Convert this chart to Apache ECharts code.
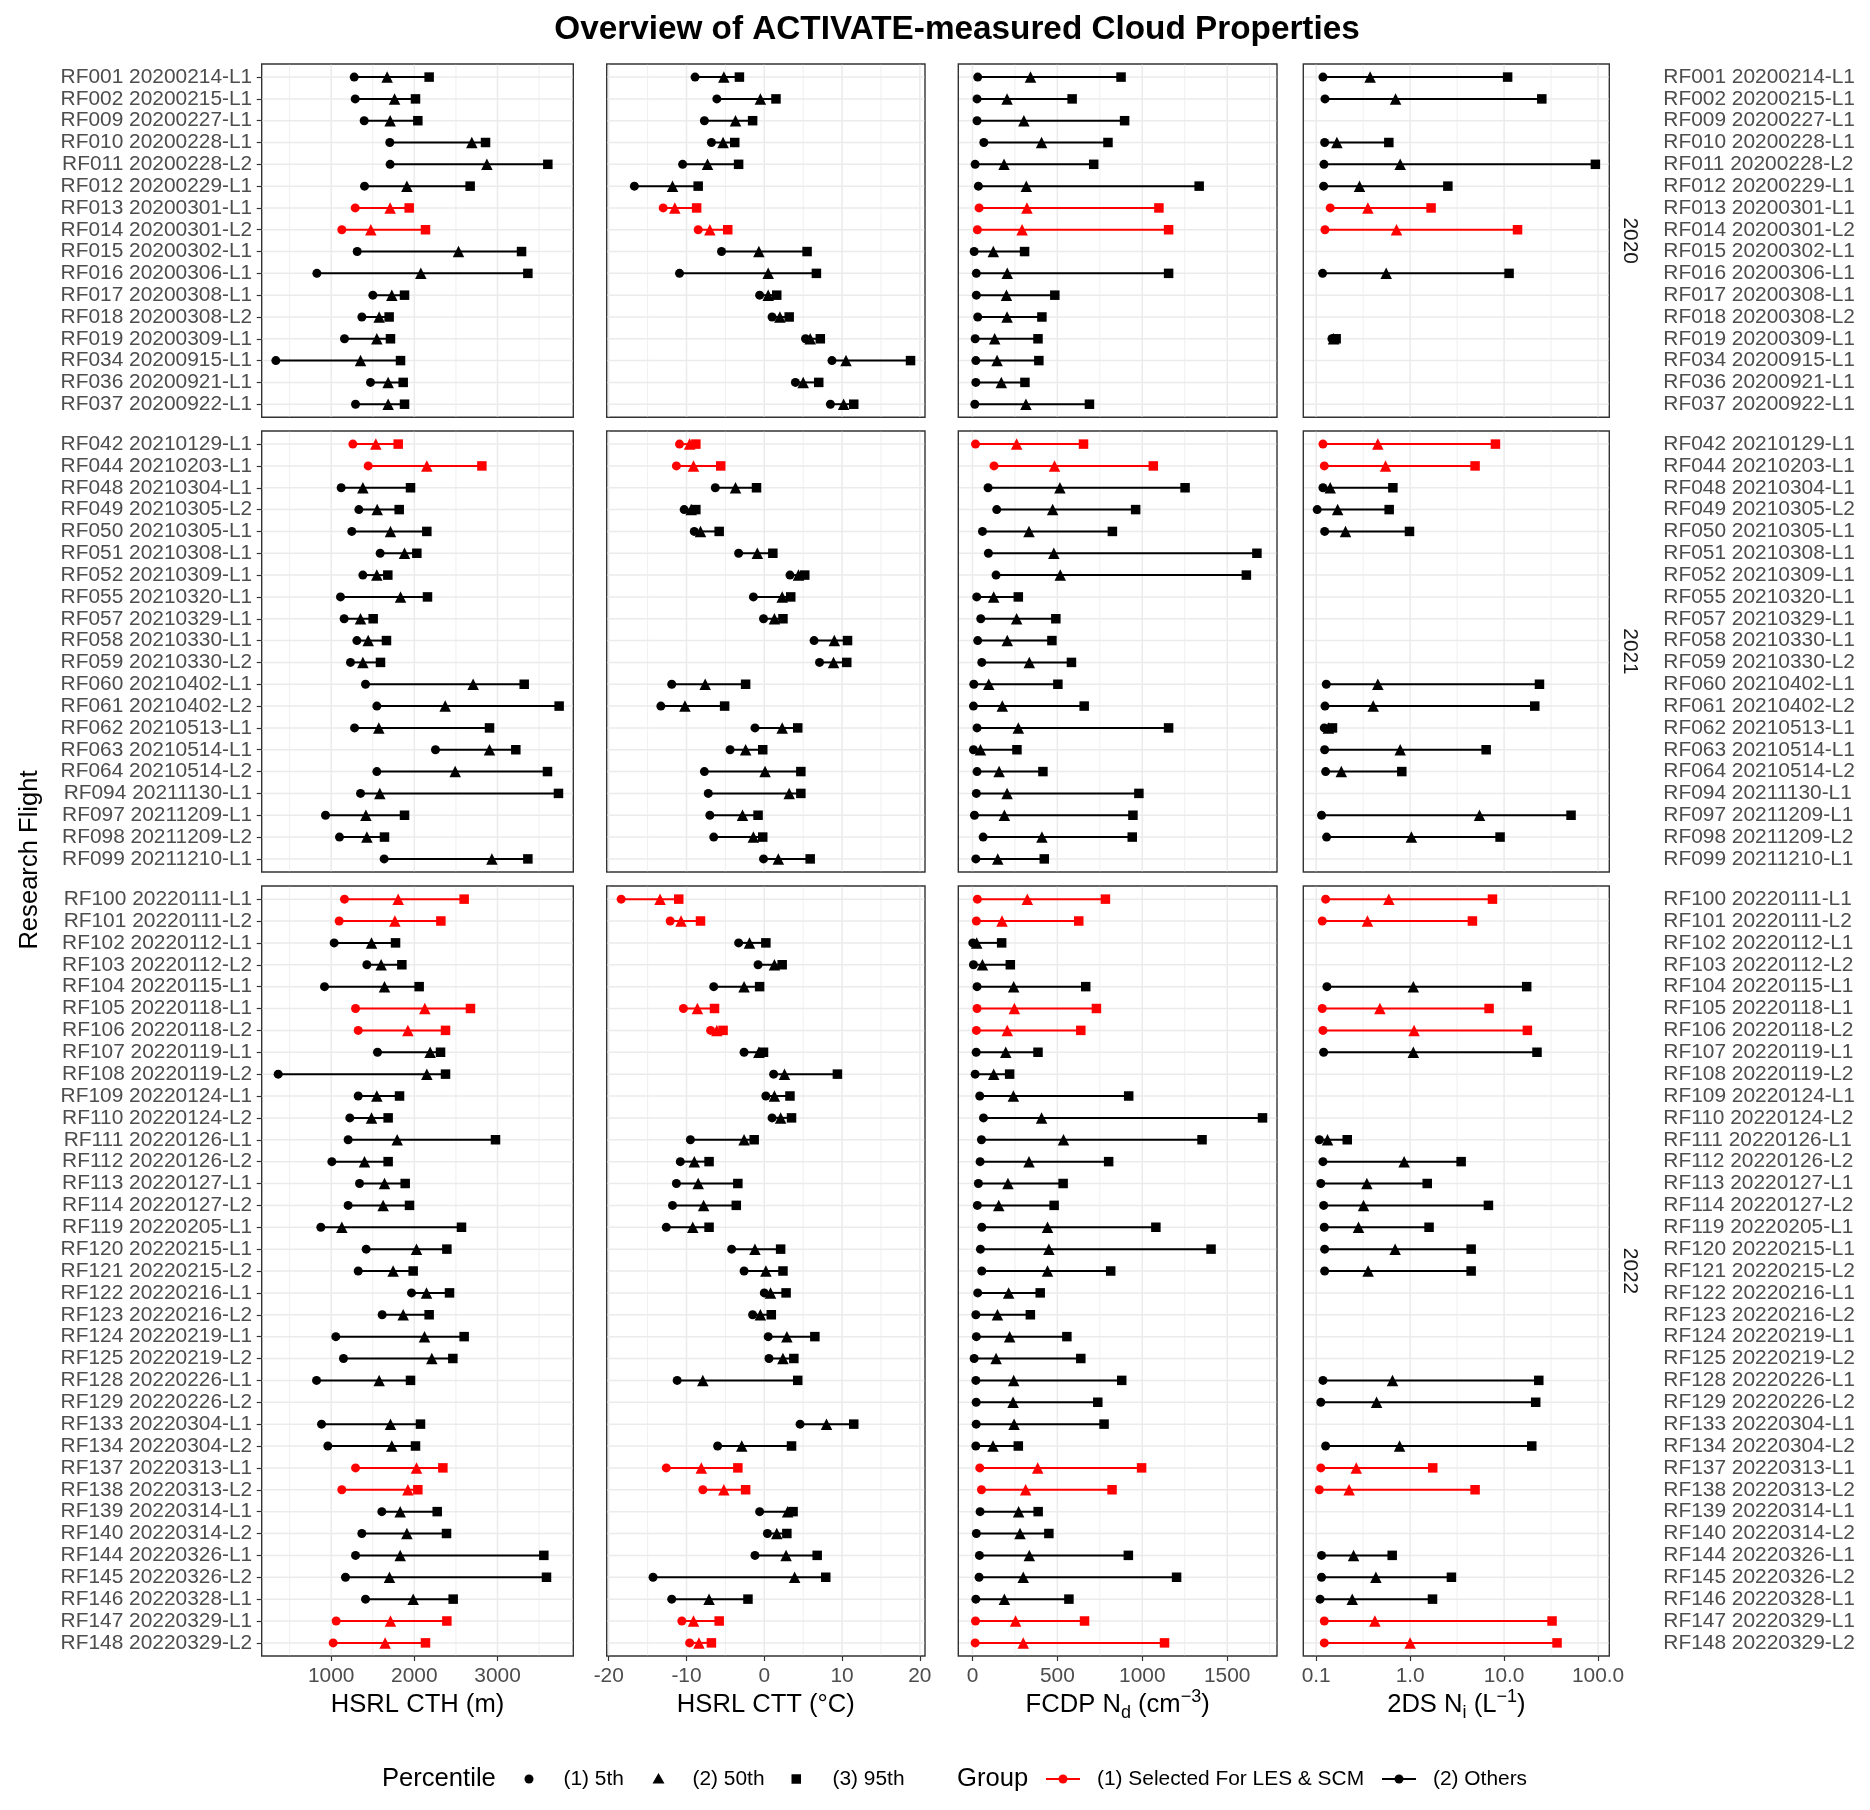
<!DOCTYPE html>
<html>
<head>
<meta charset="utf-8">
<script src="https://cdn.jsdelivr.net/npm/echarts@6/dist/echarts.min.js"></script>
<style>html,body{margin:0;padding:0;background:#fff}#chart{width:1870px;height:1810px}</style>
</head>
<body>
<div id="chart"></div>
<script>
// ---------------- DATA ----------------
const facetYears = ["2020", "2021", "2022"];
const flights = [
  "RF001 20200214-L1","RF002 20200215-L1","RF009 20200227-L1","RF010 20200228-L1","RF011 20200228-L2","RF012 20200229-L1","RF013 20200301-L1","RF014 20200301-L2","RF015 20200302-L1","RF016 20200306-L1","RF017 20200308-L1","RF018 20200308-L2","RF019 20200309-L1","RF034 20200915-L1","RF036 20200921-L1","RF037 20200922-L1",
  "RF042 20210129-L1","RF044 20210203-L1","RF048 20210304-L1","RF049 20210305-L2","RF050 20210305-L1","RF051 20210308-L1","RF052 20210309-L1","RF055 20210320-L1","RF057 20210329-L1","RF058 20210330-L1","RF059 20210330-L2","RF060 20210402-L1","RF061 20210402-L2","RF062 20210513-L1","RF063 20210514-L1","RF064 20210514-L2","RF094 20211130-L1","RF097 20211209-L1","RF098 20211209-L2","RF099 20211210-L1",
  "RF100 20220111-L1","RF101 20220111-L2","RF102 20220112-L1","RF103 20220112-L2","RF104 20220115-L1","RF105 20220118-L1","RF106 20220118-L2","RF107 20220119-L1","RF108 20220119-L2","RF109 20220124-L1","RF110 20220124-L2","RF111 20220126-L1","RF112 20220126-L2","RF113 20220127-L1","RF114 20220127-L2","RF119 20220205-L1","RF120 20220215-L1","RF121 20220215-L2","RF122 20220216-L1","RF123 20220216-L2","RF124 20220219-L1","RF125 20220219-L2","RF128 20220226-L1","RF129 20220226-L2","RF133 20220304-L1","RF134 20220304-L2","RF137 20220313-L1","RF138 20220313-L2","RF139 20220314-L1","RF140 20220314-L2","RF144 20220326-L1","RF145 20220326-L2","RF146 20220328-L1","RF147 20220329-L1","RF148 20220329-L2"
];
// 1 = "(1) Selected For LES & SCM", 0 = "(2) Others"
const selected = [
  0,0,0,0,0,0,1,1,0,0,0,0,0,0,0,0,
  1,1,0,0,0,0,0,0,0,0,0,0,0,0,0,0,0,0,0,0,
  1,1,0,0,0,1,1,0,0,0,0,0,0,0,0,0,0,0,0,0,0,0,0,0,0,0,1,1,0,0,0,0,0,1,1
];

// HSRL CTH (m)
const cth_p05 = [1277,1289,1397,1705,1709,1401,1289,1128,1313,828,1501,1369,1160,335,1473,1293,
  1261,1445,1120,1333,1248,1589,1381,1112,1156,1309,1232,1413,1549,1281,2254,1549,1353,932,1100,1637,
  1160,1096,1036,1429,920,1293,1325,1557,363,1325,1224,1204,1008,1341,1204,876,1421,1325,1966,1613,1056,1148,824,null,884,960,1293,1128,1609,1369,1293,1172,1413,1060,1024];
const cth_p50 = [1673,1762,1709,2691,2872,1910,1709,1477,2531,2078,1729,1577,1549,1353,1685,1685,
  1537,2150,1381,1553,1713,1882,1549,1834,1353,1445,1381,2707,2371,1573,2904,2491,1585,1417,1429,2932,
  1806,1766,1485,1601,1641,2126,1922,2190,2150,1549,1485,1794,1401,1641,1625,1128,2026,1745,2146,1866,2122,2210,1577,null,1713,1729,2026,1922,1830,1910,1830,1701,1986,1713,1649];
const cth_p95 = [2178,2014,2042,2856,3605,2671,1938,2134,3289,3365,1882,1697,1713,1834,1866,1882,
  1806,2812,1954,1818,2150,2030,1681,2158,1505,1665,1593,3321,3741,2904,3220,3601,3733,1882,1641,3365,
  2599,2319,1774,1850,2058,2675,2375,2315,2375,1822,1685,2976,1685,1890,1942,2567,2391,1986,2423,2178,2599,2463,1954,null,2074,2014,2343,2042,2275,2387,3557,3589,2467,2391,2134];

// HSRL CTT (deg C)
const ctt_p05 = [-8.9,-6.1,-7.7,-6.8,-10.5,-16.7,-13.0,-8.5,-5.5,-10.9,-0.6,1.0,5.3,8.7,4.0,8.5,
  -10.9,-11.3,-6.3,-10.3,-9.0,-3.3,3.3,-1.4,-0.1,6.4,7.1,-11.9,-13.3,-1.2,-4.4,-7.7,-7.2,-7.0,-6.5,-0.1,
  -18.4,-12.1,-3.3,-0.8,-6.5,-10.4,-6.9,-2.6,1.2,0.2,1.0,-9.5,-10.8,-11.3,-11.8,-12.6,-4.2,-2.6,0.0,-1.5,0.5,0.6,-11.2,null,4.6,-6.0,-12.6,-7.9,-0.6,0.4,-1.2,-14.3,-11.9,-10.6,-9.6];
const ctt_p50 = [-5.2,-0.5,-3.7,-5.3,-7.3,-11.8,-11.5,-7.0,-0.7,0.5,0.5,2.0,5.9,10.5,5.0,10.2,
  -9.6,-9.1,-3.7,-9.4,-8.2,-0.9,4.4,2.3,1.3,9.0,8.9,-7.6,-10.2,2.3,-2.4,0.1,3.2,-2.8,-1.4,1.8,
  -13.4,-10.7,-1.9,1.3,-2.6,-8.6,-6.1,-0.7,2.6,1.3,2.1,-2.6,-9.0,-8.5,-7.8,-9.2,-1.2,0.2,0.8,-0.5,2.9,2.4,-7.9,null,8.0,-2.9,-8.1,-5.2,3.0,1.6,2.8,3.9,-7.1,-9.1,-8.4];
const ctt_p95 = [-3.2,1.5,-1.5,-3.8,-3.3,-8.5,-8.7,-4.7,5.5,6.7,1.6,3.2,7.2,18.8,7.0,11.5,
  -8.8,-5.6,-1.0,-8.8,-5.8,1.1,5.2,3.4,2.4,10.7,10.6,-2.4,-5.1,4.3,-0.2,4.7,4.7,-0.8,-0.2,5.9,
  -11.0,-8.2,0.2,2.3,-0.6,-6.4,-5.3,-0.1,9.4,3.3,3.5,-1.3,-7.1,-3.4,-3.6,-7.1,2.1,2.4,2.8,0.9,6.5,3.8,4.3,null,11.5,3.5,-3.4,-2.4,3.7,2.9,6.8,7.9,-2.1,-5.8,-6.8];

// FCDP Nd (cm^-3)
const nd_p05 = [31,27,27,67,16,35,39,29,10,23,23,31,16,20,20,14,
  18,127,92,143,59,94,139,25,49,31,55,8,6,27,6,27,23,12,63,20,
  29,23,2,6,27,27,23,22,16,43,65,53,45,35,29,55,47,55,31,20,23,10,20,22,22,20,43,53,45,23,41,39,20,18,16];
const nd_p50 = [342,204,303,407,186,317,321,292,123,205,200,204,131,145,170,315,
  260,483,515,472,333,479,517,125,260,205,335,96,176,270,47,157,204,188,409,149,
  323,174,25,59,243,247,205,196,125,241,407,536,333,209,155,442,450,442,213,147,219,139,243,239,245,121,384,313,272,280,335,299,188,254,299];
const nd_p95 = [875,587,896,798,714,1335,1098,1155,307,1155,485,409,386,391,309,689,
  654,1065,1252,961,824,1675,1613,270,491,468,583,503,658,1155,262,415,980,945,941,423,
  783,626,172,223,667,730,638,386,219,920,1708,1352,802,534,481,1080,1405,814,399,341,556,638,879,738,775,270,996,822,387,450,918,1202,568,660,1131];

// 2DS Ni (L^-1); null = not measured
const ni_p05 = [0.118,0.124,null,0.123,0.121,0.120,0.141,0.124,null,0.117,null,null,0.147,null,null,null,
  0.118,0.122,0.118,0.1025,0.123,null,null,null,null,null,null,0.128,0.124,0.122,0.123,0.126,null,0.114,0.129,null,
  0.126,0.116,null,null,0.130,0.116,0.118,0.120,null,null,null,0.108,0.118,0.112,0.120,0.122,0.123,0.123,null,null,null,null,0.118,0.112,null,0.126,0.112,0.108,null,null,0.114,0.114,0.110,0.122,0.122];
const ni_p50 = [0.375,0.699,null,0.166,0.783,0.289,0.355,0.716,null,0.556,null,null,0.153,null,null,null,
  0.453,0.547,0.141,0.169,0.205,null,null,null,null,null,null,0.453,0.404,0.135,0.783,0.185,null,5.47,1.03,null,
  0.593,0.351,null,null,1.08,0.476,1.10,1.08,null,null,null,0.132,0.863,0.346,0.319,0.282,0.692,0.357,null,null,null,null,0.649,0.439,null,0.771,0.267,0.224,null,null,0.250,0.432,0.242,0.421,1.0];
const ni_p95 = [10.9,25.2,null,0.593,93.7,2.52,1.67,13.9,null,11.3,null,null,0.163,null,null,null,
  8.09,4.91,0.655,0.598,0.984,null,null,null,null,null,null,23.8,21.2,0.149,6.44,0.815,null,51.6,9.06,null,
  7.52,4.60,null,null,17.4,6.92,17.7,22.4,null,null,null,0.214,3.49,1.52,6.81,1.59,4.46,4.46,null,null,null,null,23.4,21.7,null,19.7,1.74,4.91,null,null,0.644,2.75,1.73,32.4,36.6];

// tick labels (major) and minor grid breaks per column
const cthTicks = [1000, 2000, 3000];
const cthMinor = [500, 1500, 2500, 3500];
const cttTicks = [-20, -10, 0, 10, 20];
const cttMinor = [-15, -5, 5, 15];
const ndTicks = [0, 500, 1000, 1500];
const ndMinor = [250, 750, 1250, 1750];
const niTicks = [0.1, 1, 10, 100];
const niMinor = [0.316, 3.162, 31.62];

const percentileNames = ["(1) 5th", "(2) 50th", "(3) 95th"];
const groupNames = ["(1) Selected For LES & SCM", "(2) Others"];

// ---------------- LAYOUT / STYLE ----------------
const FONT = "'Liberation Sans', Arial, Helvetica, sans-serif";
const RED = "#FF0000", BLACK = "#000000";
const colLeft = [261.7, 606.7, 958.3, 1303.3];
const colWidth = [311.6, 318.3, 318.7, 306.0];
const rowTop = [64, 431, 886];
const rowHeight = [353.3, 441, 770];

const columns = [
  { p05: cth_p05, p50: cth_p50, p95: cth_p95, log: false, ticks: cthTicks, minor: cthMinor,
    name: "HSRL CTH (m)", fmt: v => String(v) },
  { p05: ctt_p05, p50: ctt_p50, p95: ctt_p95, log: false, ticks: cttTicks, minor: cttMinor,
    name: "HSRL CTT (°C)", fmt: v => String(v) },
  { p05: nd_p05, p50: nd_p50, p95: nd_p95, log: false, ticks: ndTicks, minor: ndMinor,
    name: "FCDP N{sub|d} (cm{sup|−3})", fmt: v => String(v) },
  { p05: ni_p05, p50: ni_p50, p95: ni_p95, log: true, ticks: niTicks, minor: niMinor,
    name: "2DS N{sub|i} (L{sup|−1})", fmt: v => Number(v).toFixed(1) }
];

function extentOf(col) {
  let vals = [].concat(col.p05, col.p50, col.p95).filter(v => v != null);
  if (col.log) vals = vals.map(v => Math.log10(v));
  let mn = Math.min(...vals), mx = Math.max(...vals);
  const pad = (mx - mn) * 0.05;
  mn -= pad; mx += pad;
  return col.log ? [Math.pow(10, mn), Math.pow(10, mx)] : [mn, mx];
}

const yearIdx = facetYears.map(y => flights.map((f, i) => f.slice(6, 10) === y ? i : -1).filter(i => i >= 0));

const grids = [], xAxes = [], yAxes = [], series = [];
const labelStyle = { fontFamily: FONT, fontSize: 20.9, color: "#4D4D4D" };

facetYears.forEach((yr, r) => {
  const idxs = yearIdx[r];
  const n = idxs.length;
  const cats = idxs.map((_, k) => k);
  columns.forEach((col, c) => {
    const gi = r * 4 + c;
    const [xmin, xmax] = extentOf(col);
    grids.push({ left: colLeft[c], top: rowTop[r], width: colWidth[c], height: rowHeight[r],
      show: true, borderColor: "#333333", borderWidth: 1.4, backgroundColor: "#ffffff" });
    const bottom = r === facetYears.length - 1;
    xAxes.push({
      gridIndex: gi, type: col.log ? "log" : "value", logBase: 10, min: xmin, max: xmax,
      position: "bottom",
      axisLine: { show: false, onZero: false }, splitLine: { show: false },
      axisTick: { show: bottom, length: 5, customValues: col.ticks, lineStyle: { color: "#333333", width: 1.2 } },
      axisLabel: Object.assign({ show: bottom, customValues: col.ticks, margin: 10,
        formatter: v => col.fmt(v) }, labelStyle),
      name: bottom ? col.name : "", nameLocation: "middle", nameGap: 38,
      nameTextStyle: { fontFamily: FONT, fontSize: 25.6, color: "#000", lineHeight: 34, verticalAlign: "middle",
        rich: { sub: { fontFamily: FONT, fontSize: 18, lineHeight: 18, verticalAlign: "bottom", color: "#000" },
                sup: { fontFamily: FONT, fontSize: 18, lineHeight: 18, verticalAlign: "top", color: "#000" } } }
    });
    yAxes.push({
      gridIndex: gi, type: "value", inverse: true, min: -0.6, max: n - 0.4,
      position: c === 3 ? "right" : "left",
      axisLine: { show: false, onZero: false }, splitLine: { show: false },
      axisTick: { show: c === 0, length: 5, customValues: cats, lineStyle: { color: "#333333", width: 1.2 } },
      axisLabel: Object.assign({ show: c === 0 || c === 3, customValues: cats, margin: c === 3 ? 54 : 9.5,
        formatter: v => flights[idxs[Math.round(v)]] }, labelStyle)
    });

    // background grid lines (major, minor, horizontal per flight)
    const gl = [];
    col.ticks.forEach(v => gl.push([v, 0, 0]));
    col.minor.forEach(v => gl.push([v, 0, 1]));
    cats.forEach(k => gl.push([xmin, k, 2]));
    series.push({
      type: "custom", xAxisIndex: gi, yAxisIndex: gi, silent: true, z: 0, data: gl,
      encode: { x: 0, y: 1 },
      renderItem: (params, api) => {
        const cs = params.coordSys;
        const kind = api.value(2);
        const p = api.coord([api.value(0), api.value(1)]);
        if (kind === 2) {
          return { type: "line", shape: { x1: cs.x + 0.7, y1: p[1], x2: cs.x + cs.width - 0.7, y2: p[1] },
            style: { stroke: "#EBEBEB", lineWidth: 1.5 } };
        }
        return { type: "line", shape: { x1: p[0], y1: cs.y + 0.7, x2: p[0], y2: cs.y + cs.height - 0.7 },
          style: { stroke: "#EBEBEB", lineWidth: kind === 0 ? 1.5 : 0.8 } };
      }
    });

    // segments 5th -> 95th
    const seg = [];
    idxs.forEach((fi, k) => {
      if (col.p05[fi] != null && col.p95[fi] != null) seg.push([col.p05[fi], k, col.p95[fi], selected[fi]]);
    });
    series.push({
      type: "custom", xAxisIndex: gi, yAxisIndex: gi, silent: true, z: 2, data: seg,
      encode: { x: [0, 2], y: 1 },
      renderItem: (params, api) => {
        const a = api.coord([api.value(0), api.value(1)]);
        const b = api.coord([api.value(2), api.value(1)]);
        return { type: "line", shape: { x1: a[0], y1: a[1], x2: b[0], y2: b[1] },
          style: { stroke: api.value(3) ? RED : BLACK, lineWidth: 2 } };
      }
    });

    // percentile points
    const pts = [["p05", "circle", 9], ["p50", "triangle", 11.5], ["p95", "rect", 9.5]];
    pts.forEach(([key, sym, size], pi) => {
      const d = [];
      idxs.forEach((fi, k) => { if (col[key][fi] != null) d.push([col[key][fi], k, selected[fi]]); });
      series.push({
        type: "scatter", name: percentileNames[pi], xAxisIndex: gi, yAxisIndex: gi, silent: true,
        z: 3 + pi, symbol: sym, symbolSize: size, data: d,
        itemStyle: { color: p => (p.data[2] ? RED : BLACK), opacity: 1 },
        emphasis: { disabled: true }, animation: false
      });
    });
  });
});

// ---------------- TEXT / LEGEND ----------------
const graphics = [];
graphics.push({ type: "text", x: 957, y: 30, style: { text: "Overview of ACTIVATE-measured Cloud Properties",
  font: "bold 33.3px " + FONT, fill: "#000", align: "center", verticalAlign: "middle" } });
graphics.push({ type: "text", x: 30, y: 860, rotation: Math.PI / 2, style: { text: "Research Flight",
  font: "25.6px " + FONT, fill: "#000", align: "center", verticalAlign: "middle" } });
facetYears.forEach((yr, r) => {
  graphics.push({ type: "text", x: 1630, y: rowTop[r] + rowHeight[r] / 2, rotation: -Math.PI / 2,
    style: { text: yr, font: "20.9px " + FONT, fill: "#1A1A1A", align: "center", verticalAlign: "middle" } });
});
const LY = 1779;
const LF = "20.9px " + FONT, LT = "25.6px " + FONT;
graphics.push({ type: "text", x: 382, y: LY, style: { text: "Percentile", font: LT, fill: "#000", verticalAlign: "middle" } });
graphics.push({ type: "circle", shape: { cx: 529, cy: LY, r: 4.5 }, style: { fill: "#000" } });
graphics.push({ type: "text", x: 563.5, y: LY, style: { text: percentileNames[0], font: LF, fill: "#000", verticalAlign: "middle" } });
graphics.push({ type: "polygon", shape: { points: [[658.5, LY - 6], [664.5, LY + 4.5], [652.5, LY + 4.5]] }, style: { fill: "#000" } });
graphics.push({ type: "text", x: 692.5, y: LY, style: { text: percentileNames[1], font: LF, fill: "#000", verticalAlign: "middle" } });
graphics.push({ type: "rect", shape: { x: 791.5, y: LY - 4.75, width: 9.5, height: 9.5 }, style: { fill: "#000" } });
graphics.push({ type: "text", x: 832.5, y: LY, style: { text: percentileNames[2], font: LF, fill: "#000", verticalAlign: "middle" } });
graphics.push({ type: "text", x: 957, y: LY, style: { text: "Group", font: LT, fill: "#000", verticalAlign: "middle" } });
[[1046, RED, groupNames[0], 1097], [1382, BLACK, groupNames[1], 1433]].forEach(([x0, colr, txt, tx]) => {
  graphics.push({ type: "line", shape: { x1: x0, y1: LY, x2: x0 + 34, y2: LY }, style: { stroke: colr, lineWidth: 2 } });
  graphics.push({ type: "circle", shape: { cx: x0 + 17, cy: LY, r: 4.5 }, style: { fill: colr } });
  graphics.push({ type: "text", x: tx, y: LY, style: { text: txt, font: LF, fill: "#000", verticalAlign: "middle" } });
});

const chart = echarts.init(document.getElementById("chart"), null, { renderer: "canvas" });
chart.setOption({
  backgroundColor: "#ffffff",
  animation: false,
  grid: grids, xAxis: xAxes, yAxis: yAxes, series: series,
  graphic: graphics
});
</script>
</body>
</html>
